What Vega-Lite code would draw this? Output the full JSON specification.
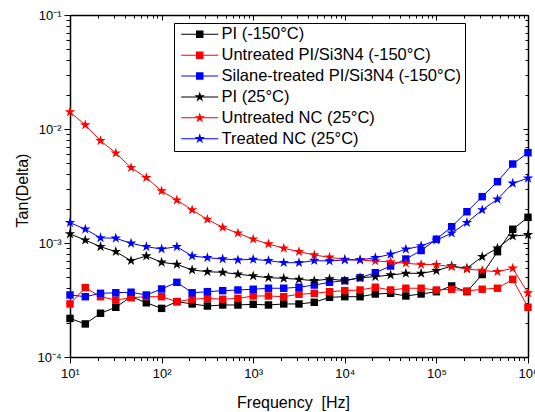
{
  "$schema": "https://vega.github.io/schema/vega-lite/v6.json",
  "autosize": {"type": "none"},
  "padding": {"left": 70, "top": 15, "right": 7, "bottom": 55},
  "width": 458,
  "height": 342,
  "background": "white",
  "config": {
    "view": {"stroke": null},
    "font": "Liberation Sans",
    "axis": {"grid": false, "domainColor": "black", "tickColor": "black", "labelColor": "black", "titleColor": "black", "domainWidth": 1.5, "tickWidth": 1, "labelFont": "Liberation Sans", "titleFont": "Liberation Sans", "labelFontSize": 13, "titleFontSize": 16, "titleFontWeight": "normal", "labelOverlap": false, "labelFlush": false, "labelBound": false}
  },
  "data": {"values": [
    {"f":10,"s":"PI (-150°C)","v":0.000218},{"f":14.68,"s":"PI (-150°C)","v":0.000195},{"f":21.54,"s":"PI (-150°C)","v":0.000242},{"f":31.62,"s":"PI (-150°C)","v":0.000273},{"f":46.42,"s":"PI (-150°C)","v":0.000338},{"f":68.13,"s":"PI (-150°C)","v":0.000299},
    {"f":100,"s":"PI (-150°C)","v":0.000267},{"f":146.8,"s":"PI (-150°C)","v":0.000306},{"f":215.4,"s":"PI (-150°C)","v":0.000292},{"f":316.2,"s":"PI (-150°C)","v":0.00028},{"f":464.2,"s":"PI (-150°C)","v":0.000286},{"f":681.3,"s":"PI (-150°C)","v":0.000286},
    {"f":1000,"s":"PI (-150°C)","v":0.00029},{"f":1468,"s":"PI (-150°C)","v":0.000286},{"f":2154,"s":"PI (-150°C)","v":0.000292},{"f":3162,"s":"PI (-150°C)","v":0.000292},{"f":4642,"s":"PI (-150°C)","v":0.000302},{"f":6813,"s":"PI (-150°C)","v":0.000334},
    {"f":10000,"s":"PI (-150°C)","v":0.000338},{"f":14678,"s":"PI (-150°C)","v":0.000338},{"f":21544,"s":"PI (-150°C)","v":0.000357},{"f":31623,"s":"PI (-150°C)","v":0.000362},{"f":46416,"s":"PI (-150°C)","v":0.000343},{"f":68129,"s":"PI (-150°C)","v":0.000357},
    {"f":100000,"s":"PI (-150°C)","v":0.000374},{"f":146780,"s":"PI (-150°C)","v":0.00042},{"f":215440,"s":"PI (-150°C)","v":0.000374},{"f":316230,"s":"PI (-150°C)","v":0.000529},{"f":464160,"s":"PI (-150°C)","v":0.000839},{"f":681290,"s":"PI (-150°C)","v":0.00132},{"f":1000000,"s":"PI (-150°C)","v":0.00168},

    {"f":10,"s":"Untreated PI/Si3N4 (-150°C)","v":0.000292},{"f":14.68,"s":"Untreated PI/Si3N4 (-150°C)","v":0.000406},{"f":21.54,"s":"Untreated PI/Si3N4 (-150°C)","v":0.000338},{"f":31.62,"s":"Untreated PI/Si3N4 (-150°C)","v":0.000316},{"f":46.42,"s":"Untreated PI/Si3N4 (-150°C)","v":0.000331},{"f":68.13,"s":"Untreated PI/Si3N4 (-150°C)","v":0.000338},
    {"f":100,"s":"Untreated PI/Si3N4 (-150°C)","v":0.000338},{"f":146.8,"s":"Untreated PI/Si3N4 (-150°C)","v":0.000306},{"f":215.4,"s":"Untreated PI/Si3N4 (-150°C)","v":0.000321},{"f":316.2,"s":"Untreated PI/Si3N4 (-150°C)","v":0.000327},{"f":464.2,"s":"Untreated PI/Si3N4 (-150°C)","v":0.000321},{"f":681.3,"s":"Untreated PI/Si3N4 (-150°C)","v":0.000327},
    {"f":1000,"s":"Untreated PI/Si3N4 (-150°C)","v":0.000343},{"f":1468,"s":"Untreated PI/Si3N4 (-150°C)","v":0.000343},{"f":2154,"s":"Untreated PI/Si3N4 (-150°C)","v":0.000338},{"f":3162,"s":"Untreated PI/Si3N4 (-150°C)","v":0.000355},{"f":4642,"s":"Untreated PI/Si3N4 (-150°C)","v":0.000362},{"f":6813,"s":"Untreated PI/Si3N4 (-150°C)","v":0.000374},
    {"f":10000,"s":"Untreated PI/Si3N4 (-150°C)","v":0.000382},{"f":14678,"s":"Untreated PI/Si3N4 (-150°C)","v":0.000387},{"f":21544,"s":"Untreated PI/Si3N4 (-150°C)","v":0.000409},{"f":31623,"s":"Untreated PI/Si3N4 (-150°C)","v":0.000387},{"f":46416,"s":"Untreated PI/Si3N4 (-150°C)","v":0.000401},{"f":68129,"s":"Untreated PI/Si3N4 (-150°C)","v":0.000401},
    {"f":100000,"s":"Untreated PI/Si3N4 (-150°C)","v":0.000387},{"f":146780,"s":"Untreated PI/Si3N4 (-150°C)","v":0.000393},{"f":215440,"s":"Untreated PI/Si3N4 (-150°C)","v":0.000379},{"f":316230,"s":"Untreated PI/Si3N4 (-150°C)","v":0.000393},{"f":464160,"s":"Untreated PI/Si3N4 (-150°C)","v":0.000401},{"f":681290,"s":"Untreated PI/Si3N4 (-150°C)","v":0.00048},{"f":1000000,"s":"Untreated PI/Si3N4 (-150°C)","v":0.000273},

    {"f":10,"s":"Silane-treated PI/Si3N4 (-150°C)","v":0.00035},{"f":14.68,"s":"Silane-treated PI/Si3N4 (-150°C)","v":0.000338},{"f":21.54,"s":"Silane-treated PI/Si3N4 (-150°C)","v":0.000362},{"f":31.62,"s":"Silane-treated PI/Si3N4 (-150°C)","v":0.000366},{"f":46.42,"s":"Silane-treated PI/Si3N4 (-150°C)","v":0.00037},{"f":68.13,"s":"Silane-treated PI/Si3N4 (-150°C)","v":0.00035},
    {"f":100,"s":"Silane-treated PI/Si3N4 (-150°C)","v":0.000395},{"f":146.8,"s":"Silane-treated PI/Si3N4 (-150°C)","v":0.000452},{"f":215.4,"s":"Silane-treated PI/Si3N4 (-150°C)","v":0.000366},{"f":316.2,"s":"Silane-treated PI/Si3N4 (-150°C)","v":0.000374},{"f":464.2,"s":"Silane-treated PI/Si3N4 (-150°C)","v":0.000382},{"f":681.3,"s":"Silane-treated PI/Si3N4 (-150°C)","v":0.000387},
    {"f":1000,"s":"Silane-treated PI/Si3N4 (-150°C)","v":0.000393},{"f":1468,"s":"Silane-treated PI/Si3N4 (-150°C)","v":0.000401},{"f":2154,"s":"Silane-treated PI/Si3N4 (-150°C)","v":0.000401},{"f":3162,"s":"Silane-treated PI/Si3N4 (-150°C)","v":0.000409},{"f":4642,"s":"Silane-treated PI/Si3N4 (-150°C)","v":0.000428},{"f":6813,"s":"Silane-treated PI/Si3N4 (-150°C)","v":0.000452},
    {"f":10000,"s":"Silane-treated PI/Si3N4 (-150°C)","v":0.000467},{"f":14678,"s":"Silane-treated PI/Si3N4 (-150°C)","v":0.000496},{"f":21544,"s":"Silane-treated PI/Si3N4 (-150°C)","v":0.000549},{"f":31623,"s":"Silane-treated PI/Si3N4 (-150°C)","v":0.000628},{"f":46416,"s":"Silane-treated PI/Si3N4 (-150°C)","v":0.000724},{"f":68129,"s":"Silane-treated PI/Si3N4 (-150°C)","v":0.000859},
    {"f":100000,"s":"Silane-treated PI/Si3N4 (-150°C)","v":0.00108},{"f":146780,"s":"Silane-treated PI/Si3N4 (-150°C)","v":0.00139},{"f":215440,"s":"Silane-treated PI/Si3N4 (-150°C)","v":0.00188},{"f":316230,"s":"Silane-treated PI/Si3N4 (-150°C)","v":0.00255},{"f":464160,"s":"Silane-treated PI/Si3N4 (-150°C)","v":0.00345},{"f":681290,"s":"Silane-treated PI/Si3N4 (-150°C)","v":0.00493},{"f":1000000,"s":"Silane-treated PI/Si3N4 (-150°C)","v":0.0062},

    {"f":10,"s":"PI (25°C)","v":0.0012},{"f":14.68,"s":"PI (25°C)","v":0.00106},{"f":21.54,"s":"PI (25°C)","v":0.000928},{"f":31.62,"s":"PI (25°C)","v":0.000839},{"f":46.42,"s":"PI (25°C)","v":0.0007},{"f":68.13,"s":"PI (25°C)","v":0.000769},
    {"f":100,"s":"PI (25°C)","v":0.000677},{"f":146.8,"s":"PI (25°C)","v":0.00065},{"f":215.4,"s":"PI (25°C)","v":0.00058},{"f":316.2,"s":"PI (25°C)","v":0.00056},{"f":464.2,"s":"PI (25°C)","v":0.000553},{"f":681.3,"s":"PI (25°C)","v":0.000533},
    {"f":1000,"s":"PI (25°C)","v":0.000514},{"f":1468,"s":"PI (25°C)","v":0.000496},{"f":2154,"s":"PI (25°C)","v":0.00049},{"f":3162,"s":"PI (25°C)","v":0.00048},{"f":4642,"s":"PI (25°C)","v":0.000467},{"f":6813,"s":"PI (25°C)","v":0.000483},
    {"f":10000,"s":"PI (25°C)","v":0.000467},{"f":14678,"s":"PI (25°C)","v":0.000496},{"f":21544,"s":"PI (25°C)","v":0.000506},{"f":31623,"s":"PI (25°C)","v":0.000524},{"f":46416,"s":"PI (25°C)","v":0.000542},{"f":68129,"s":"PI (25°C)","v":0.000542},
    {"f":100000,"s":"PI (25°C)","v":0.000571},{"f":146780,"s":"PI (25°C)","v":0.000628},{"f":215440,"s":"PI (25°C)","v":0.0006},{"f":316230,"s":"PI (25°C)","v":0.000758},{"f":464160,"s":"PI (25°C)","v":0.000899},{"f":681290,"s":"PI (25°C)","v":0.00115},{"f":1000000,"s":"PI (25°C)","v":0.00118},

    {"f":10,"s":"Untreated NC (25°C)","v":0.0141},{"f":14.68,"s":"Untreated NC (25°C)","v":0.01084},{"f":21.54,"s":"Untreated NC (25°C)","v":0.00789},{"f":31.62,"s":"Untreated NC (25°C)","v":0.00615},{"f":46.42,"s":"Untreated NC (25°C)","v":0.00458},{"f":68.13,"s":"Untreated NC (25°C)","v":0.00374},
    {"f":100,"s":"Untreated NC (25°C)","v":0.00286},{"f":146.8,"s":"Untreated NC (25°C)","v":0.00238},{"f":215.4,"s":"Untreated NC (25°C)","v":0.00195},{"f":316.2,"s":"Untreated NC (25°C)","v":0.00161},{"f":464.2,"s":"Untreated NC (25°C)","v":0.00137},{"f":681.3,"s":"Untreated NC (25°C)","v":0.00122},
    {"f":1000,"s":"Untreated NC (25°C)","v":0.00108},{"f":1468,"s":"Untreated NC (25°C)","v":0.00098},{"f":2154,"s":"Untreated NC (25°C)","v":0.000899},{"f":3162,"s":"Untreated NC (25°C)","v":0.000839},{"f":4642,"s":"Untreated NC (25°C)","v":0.000785},{"f":6813,"s":"Untreated NC (25°C)","v":0.000749},
    {"f":10000,"s":"Untreated NC (25°C)","v":0.000719},{"f":14678,"s":"Untreated NC (25°C)","v":0.00071},{"f":21544,"s":"Untreated NC (25°C)","v":0.000695},{"f":31623,"s":"Untreated NC (25°C)","v":0.000681},{"f":46416,"s":"Untreated NC (25°C)","v":0.000664},{"f":68129,"s":"Untreated NC (25°C)","v":0.000648},
    {"f":100000,"s":"Untreated NC (25°C)","v":0.000645},{"f":146780,"s":"Untreated NC (25°C)","v":0.00062},{"f":215440,"s":"Untreated NC (25°C)","v":0.000591},{"f":316230,"s":"Untreated NC (25°C)","v":0.000574},{"f":464160,"s":"Untreated NC (25°C)","v":0.00056},{"f":681290,"s":"Untreated NC (25°C)","v":0.0006},{"f":1000000,"s":"Untreated NC (25°C)","v":0.000364},

    {"f":10,"s":"Treated NC (25°C)","v":0.00151},{"f":14.68,"s":"Treated NC (25°C)","v":0.00132},{"f":21.54,"s":"Treated NC (25°C)","v":0.00111},{"f":31.62,"s":"Treated NC (25°C)","v":0.0011},{"f":46.42,"s":"Treated NC (25°C)","v":0.000994},{"f":68.13,"s":"Treated NC (25°C)","v":0.000928},
    {"f":100,"s":"Treated NC (25°C)","v":0.000886},{"f":146.8,"s":"Treated NC (25°C)","v":0.000928},{"f":215.4,"s":"Treated NC (25°C)","v":0.000769},{"f":316.2,"s":"Treated NC (25°C)","v":0.000743},{"f":464.2,"s":"Treated NC (25°C)","v":0.000724},{"f":681.3,"s":"Treated NC (25°C)","v":0.00071},
    {"f":1000,"s":"Treated NC (25°C)","v":0.000719},{"f":1468,"s":"Treated NC (25°C)","v":0.0007},{"f":2154,"s":"Treated NC (25°C)","v":0.000672},{"f":3162,"s":"Treated NC (25°C)","v":0.000672},{"f":4642,"s":"Treated NC (25°C)","v":0.0007},{"f":6813,"s":"Treated NC (25°C)","v":0.000695},
    {"f":10000,"s":"Treated NC (25°C)","v":0.00071},{"f":14678,"s":"Treated NC (25°C)","v":0.00071},{"f":21544,"s":"Treated NC (25°C)","v":0.000743},{"f":31623,"s":"Treated NC (25°C)","v":0.000796},{"f":46416,"s":"Treated NC (25°C)","v":0.000881},{"f":68129,"s":"Treated NC (25°C)","v":0.000942},
    {"f":100000,"s":"Treated NC (25°C)","v":0.00106},{"f":146780,"s":"Treated NC (25°C)","v":0.00122},{"f":215440,"s":"Treated NC (25°C)","v":0.00151},{"f":316230,"s":"Treated NC (25°C)","v":0.00195},{"f":464160,"s":"Treated NC (25°C)","v":0.00242},{"f":681290,"s":"Treated NC (25°C)","v":0.00334},{"f":1000000,"s":"Treated NC (25°C)","v":0.0037}
  ]},
  "resolve": {"scale": {"color": "independent", "shape": "independent"}, "axis": {"x": "independent", "y": "independent"}},
  "layer": [
    {
      "mark": {"type": "line", "strokeWidth": 1},
      "encoding": {
        "x": {"field": "f", "type": "quantitative", "scale": {"type": "log", "domain": [10, 1000000], "nice": false},
          "axis": {"orient": "bottom",
            "values": [10,20,30,40,50,60,70,80,90,100,200,300,400,500,600,700,800,900,1000,2000,3000,4000,5000,6000,7000,8000,9000,10000,20000,30000,40000,50000,60000,70000,80000,90000,100000,200000,300000,400000,500000,600000,700000,800000,900000,1000000],
            "labelExpr": "abs(log(datum.value)/LN10 - round(log(datum.value)/LN10)) < 0.001 ? '10' + ['⁰','¹','²','³','⁴','⁵','⁶','⁷'][round(log(datum.value)/LN10)] : ''",
            "tickSize": {"condition": {"test": "abs(log(datum.value)/LN10 - round(log(datum.value)/LN10)) < 0.001", "value": 6}, "value": 3.5},
            "labelPadding": 4,
            "title": "Frequency\u00a0 [Hz]", "titleX": 223, "titleY": 50, "titleBaseline": "alphabetic", "titleAlign": "center", "titleAnchor": null}},
        "y": {"field": "v", "type": "quantitative", "scale": {"type": "log", "domain": [0.0001, 0.1], "nice": false},
          "axis": {"orient": "left",
            "values": [0.0001,0.0002,0.0003,0.0004,0.0005,0.0006,0.0007,0.0008,0.0009,0.001,0.002,0.003,0.004,0.005,0.006,0.007,0.008,0.009,0.01,0.02,0.03,0.04,0.05,0.06,0.07,0.08,0.09,0.1],
            "labelExpr": "abs(log(datum.value)/LN10 - round(log(datum.value)/LN10)) < 0.001 ? '10⁻' + ['⁰','¹','²','³','⁴','⁵'][-round(log(datum.value)/LN10)] : ''",
            "tickSize": {"condition": {"test": "abs(log(datum.value)/LN10 - round(log(datum.value)/LN10)) < 0.001", "value": 6}, "value": 4},
            "labelPadding": 3,
            "title": "Tan(Delta)", "titleX": -43, "titleY": 175, "titleBaseline": "alphabetic", "titleAlign": "center", "titleAngle": -90}},
        "color": {"field": "s", "type": "nominal", "legend": null,
          "scale": {"domain": ["PI (-150°C)", "Untreated PI/Si3N4 (-150°C)", "Silane-treated PI/Si3N4 (-150°C)", "PI (25°C)", "Untreated NC (25°C)", "Treated NC (25°C)"], "range": ["#000000", "#ff0000", "#0000ff", "#000000", "#ff0000", "#0000ff"]}},
        "order": {"field": "f", "type": "quantitative"}
      }
    },
    {
      "mark": {"type": "point", "filled": true, "opacity": 1, "strokeWidth": 0, "size": 120},
      "encoding": {
        "x": {"field": "f", "type": "quantitative", "scale": {"type": "log", "domain": [10, 1000000], "nice": false},
          "axis": {"orient": "top", "labels": false, "title": null,
            "values": [10,20,30,40,50,60,70,80,90,100,200,300,400,500,600,700,800,900,1000,2000,3000,4000,5000,6000,7000,8000,9000,10000,20000,30000,40000,50000,60000,70000,80000,90000,100000,200000,300000,400000,500000,600000,700000,800000,900000,1000000],
            "tickSize": {"condition": {"test": "abs(log(datum.value)/LN10 - round(log(datum.value)/LN10)) < 0.001", "value": -5}, "value": -3}}},
        "y": {"field": "v", "type": "quantitative", "scale": {"type": "log", "domain": [0.0001, 0.1], "nice": false},
          "axis": {"orient": "right", "labels": false, "title": null,
            "values": [0.0001,0.0002,0.0003,0.0004,0.0005,0.0006,0.0007,0.0008,0.0009,0.001,0.002,0.003,0.004,0.005,0.006,0.007,0.008,0.009,0.01,0.02,0.03,0.04,0.05,0.06,0.07,0.08,0.09,0.1],
            "tickSize": {"condition": {"test": "abs(log(datum.value)/LN10 - round(log(datum.value)/LN10)) < 0.001", "value": -5}, "value": -3}}},
        "color": {"field": "s", "type": "nominal", "legend": null,
          "scale": {"domain": ["PI (-150°C)", "Untreated PI/Si3N4 (-150°C)", "Silane-treated PI/Si3N4 (-150°C)", "PI (25°C)", "Untreated NC (25°C)", "Treated NC (25°C)"], "range": ["#000000", "#ff0000", "#0000ff", "#000000", "#ff0000", "#0000ff"]}},
        "shape": {"field": "s", "type": "nominal", "legend": null,
          "scale": {"domain": ["PI (-150°C)", "Untreated PI/Si3N4 (-150°C)", "Silane-treated PI/Si3N4 (-150°C)", "PI (25°C)", "Untreated NC (25°C)", "Treated NC (25°C)"],
            "range": ["M-0.68,-0.68H0.68V0.68H-0.68Z", "M-0.68,-0.68H0.68V0.68H-0.68Z", "M-0.68,-0.68H0.68V0.68H-0.68Z",
              "M0,-1L0.225,-0.309L0.951,-0.309L0.363,0.118L0.588,0.809L0,0.382L-0.588,0.809L-0.363,0.118L-0.951,-0.309L-0.225,-0.309Z",
              "M0,-1L0.225,-0.309L0.951,-0.309L0.363,0.118L0.588,0.809L0,0.382L-0.588,0.809L-0.363,0.118L-0.951,-0.309L-0.225,-0.309Z",
              "M0,-1L0.225,-0.309L0.951,-0.309L0.363,0.118L0.588,0.809L0,0.382L-0.588,0.809L-0.363,0.118L-0.951,-0.309L-0.225,-0.309Z"]}}
      }
    },
    {
      "transform": [{"filter": "datum.v < 0"}],
      "mark": {"type": "point", "filled": true, "opacity": 1, "strokeWidth": 0, "size": 100},
      "encoding": {
        "x": {"field": "f", "type": "quantitative", "scale": {"type": "log", "domain": [10, 1000000], "nice": false}, "axis": null},
        "y": {"field": "v", "type": "quantitative", "scale": {"type": "log", "domain": [0.0001, 0.1], "nice": false}, "axis": null},
        "color": {"field": "s", "type": "nominal",
          "scale": {"domain": ["PI (-150°C)", "Untreated PI/Si3N4 (-150°C)", "Silane-treated PI/Si3N4 (-150°C)", "PI (25°C)", "Untreated NC (25°C)", "Treated NC (25°C)"], "range": ["#000000", "#ff0000", "#0000ff", "#000000", "#ff0000", "#0000ff"]},
          "legend": {"orient": "none", "legendX": 104, "legendY": 8, "title": null, "strokeColor": "black", "fillColor": "white", "padding": 3, "rowPadding": 3.9, "labelFont": "Liberation Sans", "labelFontSize": 16.5, "labelColor": "black", "labelLimit": 400, "symbolOffset": 14.5, "labelOffset": 13.5, "symbolStrokeWidth": 0, "symbolOpacity": 1,
            "labelExpr": "datum.label == 'PI (-150°C)' ? '\u00a0PI (-150°C)' : datum.label"}},
        "shape": {"field": "s", "type": "nominal",
          "scale": {"domain": ["PI (-150°C)", "Untreated PI/Si3N4 (-150°C)", "Silane-treated PI/Si3N4 (-150°C)", "PI (25°C)", "Untreated NC (25°C)", "Treated NC (25°C)"],
            "range": ["M-3.7,-0.1H3.7V0.1H-3.7Z M-0.75,-0.75H0.75V0.75H-0.75Z", "M-3.7,-0.1H3.7V0.1H-3.7Z M-0.75,-0.75H0.75V0.75H-0.75Z", "M-3.7,-0.1H3.7V0.1H-3.7Z M-0.75,-0.75H0.75V0.75H-0.75Z",
              "M-3.7,-0.1H3.7V0.1H-3.7Z M0,-1.1L0.247,-0.34L1.046,-0.34L0.399,0.13L0.647,0.89L0,0.42L-0.647,0.89L-0.399,0.13L-1.046,-0.34L-0.247,-0.34Z",
              "M-3.7,-0.1H3.7V0.1H-3.7Z M0,-1.1L0.247,-0.34L1.046,-0.34L0.399,0.13L0.647,0.89L0,0.42L-0.647,0.89L-0.399,0.13L-1.046,-0.34L-0.247,-0.34Z",
              "M-3.7,-0.1H3.7V0.1H-3.7Z M0,-1.1L0.247,-0.34L1.046,-0.34L0.399,0.13L0.647,0.89L0,0.42L-0.647,0.89L-0.399,0.13L-1.046,-0.34L-0.247,-0.34Z"]}}
      }
    }
  ]
}
